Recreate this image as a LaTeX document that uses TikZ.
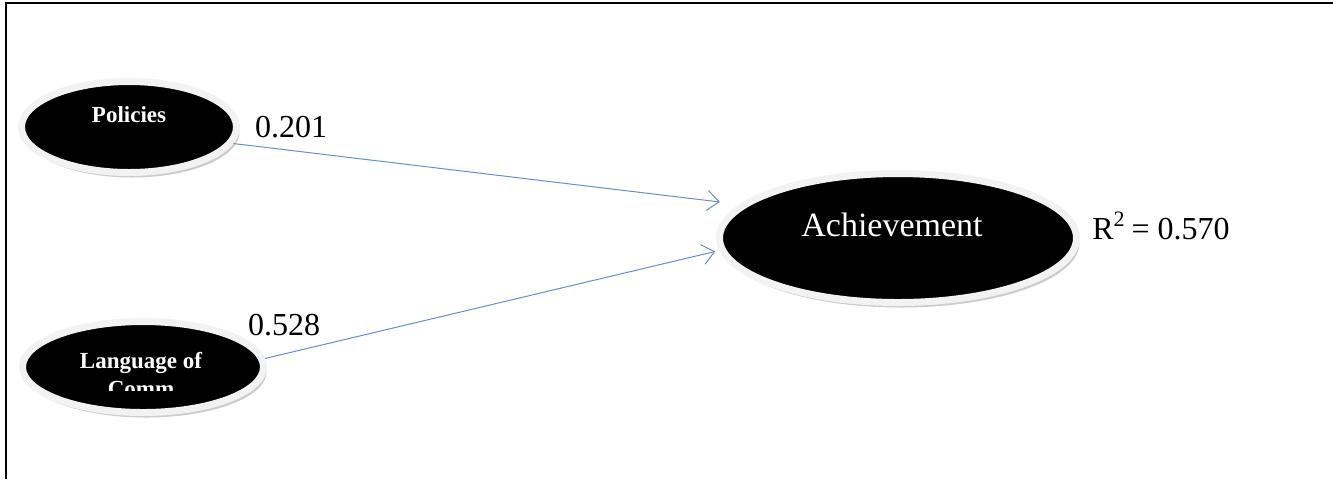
\documentclass[tikz,border=0pt]{standalone}
\usepackage{fontspec}
\setmainfont{Liberation Serif}
\usepackage{tikz}
\usetikzlibrary{shapes}
\usetikzlibrary{shadows}
\usetikzlibrary{arrows.meta}
\definecolor{pathblue}{RGB}{100,145,200}

\begin{document}
\begin{tikzpicture}
[
    x = 0.5pt, y = -0.5pt,
    construct/.style = {ellipse, fill = black, draw = gray!10, line width = 3.5pt, inner sep = 0pt,
        drop shadow = {shadow xshift = 1.5pt, shadow yshift = -2.5pt, fill = gray!40, opacity = 1}},
    small name/.style = {text = white, align = center, font = \bfseries\fontsize{11.5}{14}\selectfont},
    big name/.style = {text = white, font = \fontsize{17}{20}\selectfont},
    coef/.style = {font = \fontsize{16}{19}\selectfont},
    effect/.style = {draw = pathblue, line width = 0.5pt, -{Straight Barb[length = 6pt, width = 10pt]}}]

\useasboundingbox (0,0) rectangle (1333,479);
\draw[line width = 1pt] (6,479) |- (1333,3);

\node[construct, minimum width = 107.5pt, minimum height = 45.5pt] (pol) at (129,127) {};
\node[construct, minimum width = 120.5pt, minimum height = 45.5pt] (lang) at (143,367) {};
\node[construct, minimum width = 178.5pt, minimum height = 64.5pt] (ach) at (898,238) {};

\node[small name] (poltext) at (129,115) {Policies};
\begin{scope}
    \clip (30,330) rectangle (260,390);
    \node[small name] (langtext) at (141,375) {Language of\\Comm};
\end{scope}
\node[big name] (achtext) at (892,225) {Achievement};

\node[coef] (b1) at (291,127) {0.201};
\node[coef] (b2) at (284,325) {0.528};
\node[coef] (rsq) at (1161,226) {R\textsuperscript{\fontsize{11}{12}\selectfont 2}\kern-1pt{} = 0.570};

\draw[effect, shorten > = 10pt] (pol.-9) -- (ach.168);
\draw[effect, shorten > = 2pt] (lang.4) -- (ach.184);

\end{tikzpicture}
\end{document}
